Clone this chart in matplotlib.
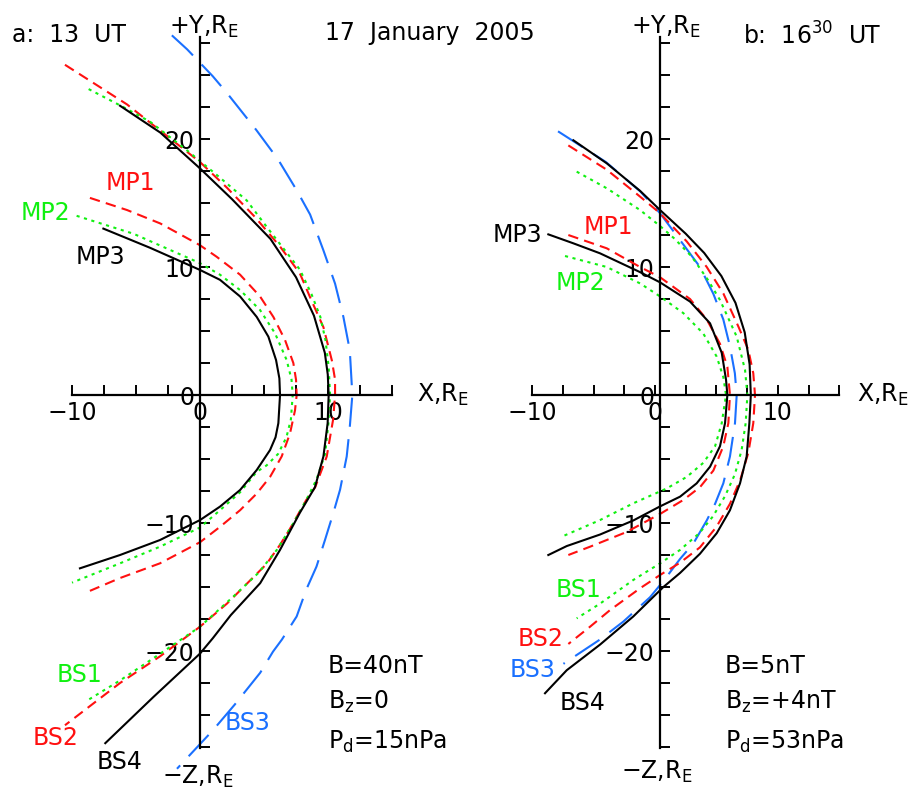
import numpy as np
import matplotlib
matplotlib.use("Agg")
import matplotlib.pyplot as plt
from matplotlib.ticker import FixedLocator

plt.rcParams['font.family'] = ['DejaVu Sans']
plt.rcParams['mathtext.default'] = 'regular'
plt.rcParams['font.size'] = 17

# curves, (X, Y) in R_E, upper branch -> nose -> lower branch
# panel a: 13 UT
a_mp1 = np.array([(-8.6, 15.4), (-5.7, 14.45), (-3.1, 13.4), (0, 11.7), (1.3, 10.8), (3.13, 9.4),
                  (4.69, 7.7), (5.73, 6.1), (6.64, 4.3), (7.29, 2.5), (7.5, 1.2), (7.55, 0),
                  (7.42, -1.2), (7.03, -3.0), (6.38, -4.8), (5.47, -6.4), (4.43, -7.7), (3.13, -9.0),
                  (1.56, -10.3), (0, -11.5), (-3.13, -13.15), (-6.25, -14.3), (-8.6, -15.3)])
a_mp2 = np.array([(-9.64, 14.0), (-5.2, 12.6), (0, 10.3), (1.56, 9.4), (3.13, 8.2), (4.69, 6.64),
                  (5.86, 4.82), (6.77, 2.73), (7.15, 1.2), (7.24, 0), (7.1, -1.9), (6.75, -3.3),
                  (6.1, -4.6), (5.2, -5.5), (4.43, -6.0), (3.13, -7.6), (1.56, -9.0), (0, -10.35),
                  (-3.13, -11.85), (-6.25, -13.15), (-10.0, -14.66)])
a_mp3 = np.array([(-7.55, 13.0), (-3.9, 11.5), (0, 9.77), (1.56, 9.0), (3.13, 7.7), (4.43, 6.1),
                  (5.34, 4.56), (5.94, 2.73), (6.2, 1.3), (6.25, 0), (6.12, -2.2), (5.9, -3.3),
                  (5.47, -4.3), (4.43, -5.86), (3.13, -7.42), (1.56, -8.72), (0, -9.77),
                  (-3.13, -11.33), (-6.25, -12.5), (-9.38, -13.54)])
a_bs1 = np.array([(-8.7, 23.9), (-6.0, 22.5), (-3.9, 21.35), (-1.0, 19.1), (1.3, 17.2), (3.65, 15.2),
                  (5.2, 13.15), (6.4, 11.6), (7.8, 9.8), (8.7, 7.9), (9.4, 6.1), (9.8, 4.3),
                  (10.05, 2.2), (10.16, 0), (10.03, -2.2), (9.77, -4.6), (9.1, -6.6), (8.3, -8.2),
                  (7.3, -10.0), (6.0, -12.1), (4.56, -13.9), (2.6, -15.75), (0, -18.1),
                  (-3.1, -20.2), (-6.25, -22.3), (-8.7, -23.8)])
a_bs2 = np.array([(-10.55, 25.8), (-5.7, 22.7), (0, 18.2), (2.1, 16.2), (4.3, 13.9), (6.25, 11.6),
                  (7.8, 9.5), (8.7, 7.4), (9.64, 5.3), (10.3, 2.7), (10.55, 1.2), (10.55, 0),
                  (10.4, -1.9), (9.9, -4.8), (9.0, -7.2), (8.3, -8.2), (7.0, -10.5), (6.25, -11.7),
                  (5.2, -13.2), (3.9, -14.5), (2.1, -16.3), (0, -18.1), (-3.1, -20.4),
                  (-6.25, -22.5), (-10.55, -25.8)])
a_bs3 = np.array([(-2.2, 28.1), (-1.0, 27.0), (1.0, 24.9), (2.1, 23.6), (4.4, 20.7), (6.1, 18.4),
                  (7.55, 16.0), (8.6, 14.1), (9.64, 11.3), (10.55, 8.7), (11.2, 6.1), (11.7, 3.5),
                  (11.9, 0), (11.7, -2.5), (11.46, -4.8), (10.94, -7.4), (10.42, -9.2), (9.77, -11.3),
                  (9.1, -13.4), (8.3, -15.2), (7.55, -17.3), (6.4, -19.1), (5.7, -20.05),
                  (4.7, -21.7), (2.7, -24.2), (1.0, -26.2), (-1.8, -29.2)])
a_bs4 = np.array([(-6.25, 22.6), (-3.1, 20.5), (0, 17.7), (2.5, 15.3), (5.5, 12.2), (7.5, 9.2),
                  (8.9, 6.2), (9.75, 3.3), (9.98, 1.6), (10.05, 0), (9.97, -2.2), (9.64, -4.8),
                  (8.98, -7.2), (7.8, -9.2), (6.25, -12.1), (4.7, -14.7), (2.4, -17.2), (1.0, -19.0),
                  (0, -20.2), (-3.65, -23.6), (-7.4, -27.2)])

# panel b: 16:30 UT
b_mp1 = np.array([(-7.06, 12.5), (-3.93, 11.46), (-1.22, 10.0), (0.41, 9.2), (2.85, 7.5), (4.21, 5.9),
                  (5.29, 4.0), (5.89, 2.2), (6.1, 0), (5.97, -2.2), (5.56, -4.0), (4.75, -5.9),
                  (3.66, -7.2), (2.3, -8.2), (0.5, -9.24), (-2.31, -10.7), (-5.29, -11.85),
                  (-7.06, -12.5)])
b_mp2 = np.array([(-7.33, 10.86), (-3.93, 10.0), (-1.22, 8.72), (0.41, 7.7), (2.3, 6.4), (3.93, 4.8),
                  (5.02, 3.0), (5.56, 1.4), (5.78, 0), (5.43, -2.2), (4.89, -4.0), (3.93, -5.3),
                  (2.58, -6.4), (0.95, -7.3), (-1.77, -8.46), (-4.48, -9.77), (-7.6, -11.07)])
b_mp3 = np.array([(-8.69, 12.55), (-6.65, 11.85), (-4.48, 11.07), (-1.22, 9.6), (0.41, 8.8),
                  (2.85, 7.3), (4.48, 5.6), (5.43, 3.3), (5.78, 1.2), (5.89, 0), (5.7, -2.2),
                  (5.29, -4.0), (4.48, -5.6), (3.39, -6.9), (2.04, -7.94), (0.41, -8.7),
                  (-1.77, -9.8), (-4.48, -10.9), (-7.19, -11.8), (-8.69, -12.5)])
b_bs1 = np.array([(-6.38, 17.45), (-3.93, 16.15), (-1.22, 14.45), (0.41, 13.2), (1.6, 12.2),
                  (3.0, 10.8), (4.3, 9.0), (5.29, 7.42), (6.65, 4.56), (7.33, 1.95), (7.52, 0),
                  (7.38, -2.2), (7.05, -4.3), (6.5, -6.2), (5.7, -7.9), (4.7, -9.5), (3.6, -10.8),
                  (2.04, -12.1), (0.41, -13.15), (-1.77, -14.45), (-4.48, -16.3), (-6.38, -17.45)])
b_bs2 = np.array([(-7.06, 19.5), (-3.93, 17.6), (-1.22, 15.5), (0.41, 14.2), (2.58, 12.0), (4.21, 10.0),
                  (5.56, 7.94), (6.79, 5.34), (7.6, 3.52), (8.0, 1.7), (8.14, 0), (8.0, -2.2),
                  (7.6, -4.5), (6.95, -6.6), (6.1, -8.5), (5.0, -10.3), (3.66, -11.9), (2.04, -13.1),
                  (0.41, -14.06), (-1.22, -15.1), (-3.66, -16.8), (-5.29, -18.1), (-7.06, -19.45)])
b_bs3 = np.array([(-7.9, 20.6), (-4.0, 18.2), (-1.2, 15.9), (0.41, 14.2), (2.04, 12.1), (3.66, 10.0),
                  (4.75, 7.9), (5.56, 5.9), (6.1, 3.8), (6.5, 1.7), (6.65, 0), (6.51, -2.2),
                  (6.1, -4.8), (5.56, -6.9), (4.89, -8.5), (4.21, -9.8), (3.12, -11.6), (2.04, -12.8),
                  (0.75, -14.45), (-0.41, -15.8), (-2.58, -17.7), (-4.48, -19.1), (-7.46, -21.0)])
b_bs4 = np.array([(-6.65, 19.9), (-3.93, 18.1), (-1.22, 15.95), (0.41, 14.45), (2.5, 12.6),
                  (4.0, 11.1), (5.4, 9.3), (6.55, 7.2), (7.3, 4.9), (7.7, 2.4), (7.8, 0),
                  (7.68, -2.2), (7.46, -4.8), (6.92, -6.9), (6.1, -9.0), (5.02, -10.8), (3.66, -12.4),
                  (2.04, -13.9), (0.68, -15.0), (-1.77, -17.3), (-4.48, -19.5), (-7.19, -21.5),
                  (-8.96, -23.3)])

RED = '#ff1010'
GREEN = '#10f010'
BLUE = '#1a70ff'
BLACK = 'black'

# colour and dash for every boundary
style = {
    'MP1': (RED, (0, (5, 3))),
    'MP2': (GREEN, (0, (1.5, 2.2))),
    'MP3': (BLACK, '-'),
    'BS1': (GREEN, (0, (1.5, 2.2))),
    'BS2': (RED, (0, (5, 3))),
    'BS3': (BLUE, (0, (14, 6))),
    'BS4': (BLACK, '-'),
}

fig = plt.figure(figsize=(9.09, 7.89), dpi=100)

# pixel scales of the original picture: 12.8 px per R_E (a), x 12.28 px per R_E (b)
ax1 = fig.add_axes([0, 0, 0.5, 1])
ax2 = fig.add_axes([0.5, 0, 0.5, 1])
ax1.set_xlim(-15.625, 19.88)
ax2.set_xlim(-16.33, 20.68)
for ax in (ax1, ax2):
    ax.set_ylim(-30.78, 30.86)


def setup(ax, yaxis_x):
    ax.patch.set_visible(False)
    ax.spines['top'].set_visible(False)
    ax.spines['right'].set_visible(False)
    ax.spines['bottom'].set_position(('data', 0))
    ax.spines['left'].set_position(('data', yaxis_x))
    ax.spines['bottom'].set_bounds(-10, 15)
    ax.spines['left'].set_bounds(-27.6, 28)
    for s in ('bottom', 'left'):
        ax.spines[s].set_linewidth(1.6)
    ax.xaxis.set_major_locator(FixedLocator([-10, 0, 10]))
    ax.xaxis.set_minor_locator(FixedLocator(np.arange(-10, 15.1, 2.5)))
    ax.yaxis.set_major_locator(FixedLocator([-20, -10, 0, 10, 20]))
    ax.yaxis.set_minor_locator(FixedLocator(np.arange(-27.5, 27.6, 2.5)))
    ax.tick_params(which='both', direction='in', length=7.5, width=1.4, labelsize=17, pad=4)


setup(ax1, 0)
setup(ax2, 0.41)

for ax, curves in ((ax1, {'BS3': a_bs3, 'BS2': a_bs2, 'BS1': a_bs1, 'BS4': a_bs4,
                          'MP1': a_mp1, 'MP2': a_mp2, 'MP3': a_mp3}),
                   (ax2, {'BS3': b_bs3, 'BS2': b_bs2, 'BS1': b_bs1, 'BS4': b_bs4,
                          'MP1': b_mp1, 'MP2': b_mp2, 'MP3': b_mp3})):
    for name, pts in curves.items():
        c, ls = style[name]
        ax.plot(pts[:, 0], pts[:, 1], color=c, linestyle=ls, lw=1.5)

# curve labels
labels_a = {'MP1': (-5.47, 16.56), 'MP2': (-12.1, 14.2), 'MP3': (-7.8, 10.8),
            'BS1': (-9.4, -21.9), 'BS2': (-11.3, -26.8), 'BS3': (3.75, -25.6), 'BS4': (-6.25, -28.7)}
labels_b = {'MP1': (-3.83, 13.1), 'MP2': (-6.1, 8.75), 'MP3': (-11.24, 12.5),
            'BS1': (-6.27, -15.2), 'BS2': (-9.36, -19.1), 'BS3': (-10.0, -21.5), 'BS4': (-5.94, -24.1)}
for ax, labs in ((ax1, labels_a), (ax2, labels_b)):
    for name, (x, y) in labs.items():
        ax.text(x, y, name, color=style[name][0], ha='center', va='center')

# axis names and headers
ax1.text(0.3, 28.75, '+Y,R$_E$', ha='center', va='center')
ax1.text(16.95, 0, 'X,R$_E$', ha='left', va='center')
ax1.text(-0.15, -29.8, '\u2212Z,R$_E$', ha='center', va='center')
ax1.text(-14.7, 28.1, 'a:  13  UT', ha='left', va='center')
ax1.text(9.77, 28.3, '17  January  2005', ha='left', va='center')

ax2.text(0.9, 28.75, '+Y,R$_E$', ha='center', va='center')
ax2.text(16.45, 0, 'X,R$_E$', ha='left', va='center')
ax2.text(0.16, -29.45, '\u2212Z,R$_E$', ha='center', va='center')
ax2.text(7.17, 28.05, 'b:  16$^{30}$  UT', ha='left', va='center')

# solar wind conditions
cond_a = ['B=40nT', 'B$_z$=0', 'P$_d$=15nPa']
cond_b = ['B=5nT', 'B$_z$=+4nT', 'P$_d$=53nPa']
for ax, x, lines in ((ax1, 10.0, cond_a), (ax2, 5.7, cond_b)):
    for y, s in zip((-21.2, -24.0, -27.1), lines):
        ax.text(x, y, s, ha='left', va='center')

fig.savefig('out.png', dpi=100)
